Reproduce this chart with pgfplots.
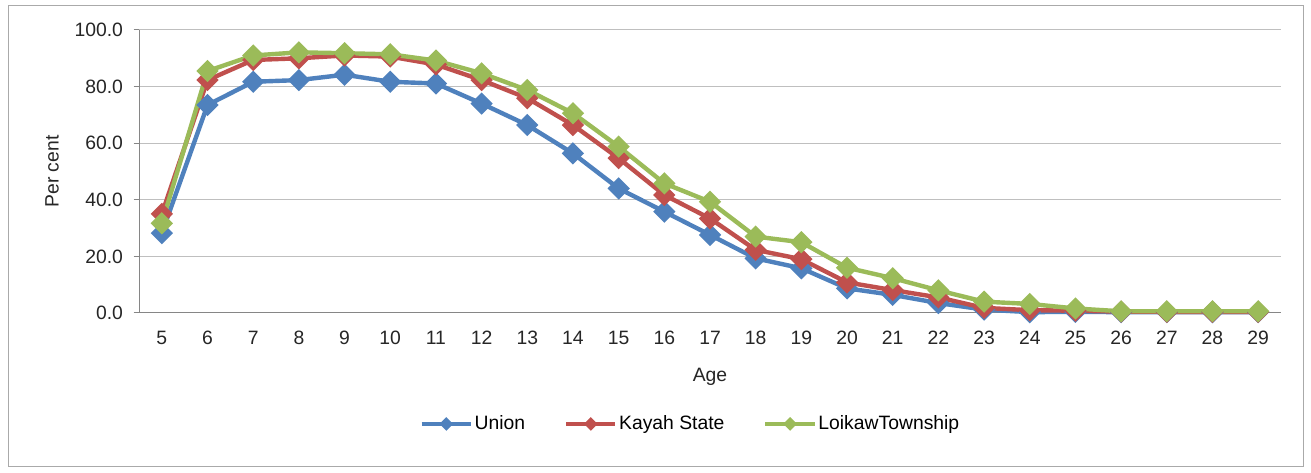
\documentclass[border=0pt]{standalone}
\usepackage{fontspec}
\setmainfont{Liberation Sans}
\usepackage{pgfplots}
\pgfplotsset{compat=1.18}
\definecolor{cblue}{HTML}{4F81BD}
\definecolor{cred}{HTML}{C0504D}
\definecolor{cgreen}{HTML}{9BBB59}
\definecolor{cgrid}{HTML}{BFBFBF}
\definecolor{caxis}{HTML}{868686}
\pgfdeclareplotmark{sdiamond}{%
  \pgfpathmoveto{\pgfqpoint{0pt}{1.4\pgfplotmarksize}}%
  \pgfpathlineto{\pgfqpoint{1.4\pgfplotmarksize}{0pt}}%
  \pgfpathlineto{\pgfqpoint{0pt}{-1.4\pgfplotmarksize}}%
  \pgfpathlineto{\pgfqpoint{-1.4\pgfplotmarksize}{0pt}}%
  \pgfpathclose\pgfusepathqfillstroke}
\begin{document}
\begin{tikzpicture}
\path[fill=white] (0pt,0pt) rectangle (983.25pt,354.75pt);
\draw[color=caxis!70, line width=0.75pt] (6pt,4.5pt) rectangle (977.25pt,350.25pt);
\begin{axis}[
  at={(104.25pt,120pt)}, anchor=south west,
  scale only axis, width=856.5pt, height=212.25pt,
  xmin=4.5, xmax=29.5, ymin=0, ymax=100,
  axis x line=bottom, axis y line=left,
  axis line style={-, color=caxis, line width=0.75pt},
  xtick={5,...,29}, major x tick style={draw=none},
  extra x ticks={4.5,5.5,...,29.5}, extra x tick labels={},
  extra x tick style={major tick length=6pt, tick align=outside, tick style={color=caxis, line width=0.75pt}, grid=none},
  ytick={0,20,...,100},
  ymajorgrids, grid style={color=cgrid, line width=0.75pt},
  major y tick style={color=caxis, line width=0.75pt},
  tick align=outside, major tick length=4pt,
  yticklabel style={xshift=-4.5pt, /pgf/number format/.cd, fixed, fixed zerofill, precision=1},
  /pgf/number format/assume math mode=true,
  ticklabel style={font=\fontsize{14.5}{16}\selectfont, color=black!85},
  xticklabel style={yshift=-6pt},
  xlabel={Age}, ylabel={Per cent},
  label style={font=\fontsize{14.5}{16}\selectfont, color=black!85},
  xlabel style={at={(axis description cs:0.5,-0.226)}, anchor=center},
  ylabel style={at={(axis description cs:-0.0762,0.5)}, anchor=center},
  legend columns=3,
  legend style={at={(0.483,-0.392)}, anchor=center, draw=none, fill=none,
    font=\fontsize{14.5}{16}\selectfont, /tikz/every even column/.append style={column sep=27pt},
    /tikz/every odd column/.append style={column sep=-1pt}},
  legend image code/.code={\draw[#1, mark=none, line width=3.5pt] (0pt,0pt) -- (37pt,0pt); \draw[#1, mark size=2pt] plot coordinates {(18.5pt,0pt)};},
  every axis plot/.append style={line width=3.3pt, mark=sdiamond, mark size=4.3pt},
  every mark/.append style={line width=0.5pt},
  clip=false,
]
\addplot[color=cblue, mark options={fill=cblue}] coordinates {
(5,28.2)(6,73.5)(7,81.7)(8,82.3)(9,84.2)(10,81.7)(11,81.1)(12,74.0)(13,66.4)(14,56.4)(15,44.0)(16,35.8)(17,27.6)(18,19.3)(19,15.8)(20,8.7)(21,6.4)(22,3.5)(23,1.2)(24,0.3)(25,0.4)(26,0.3)(27,0.3)(28,0.3)(29,0.3)};
\addlegendentry{Union}
\addplot[color=cred, mark options={fill=cred}] coordinates {
(5,35.0)(6,82.3)(7,89.4)(8,90.0)(9,91.0)(10,90.6)(11,87.8)(12,82.3)(13,75.9)(14,66.4)(15,54.7)(16,41.7)(17,33.4)(18,22.3)(19,19.0)(20,10.8)(21,8.1)(22,5.5)(23,1.8)(24,1.0)(25,0.8)(26,0.5)(27,0.4)(28,0.4)(29,0.4)};
\addlegendentry{Kayah State}
\addplot[color=cgreen, mark options={fill=cgreen}] coordinates {
(5,31.7)(6,85.5)(7,91.0)(8,92.1)(9,91.8)(10,91.4)(11,89.2)(12,84.7)(13,78.8)(14,70.6)(15,58.8)(16,45.8)(17,39.3)(18,27.0)(19,25.0)(20,16.0)(21,12.3)(22,8.0)(23,4.0)(24,3.2)(25,1.6)(26,0.6)(27,0.6)(28,0.6)(29,0.6)};
\addlegendentry{LoikawTownship}
\end{axis}
\end{tikzpicture}
\end{document}
